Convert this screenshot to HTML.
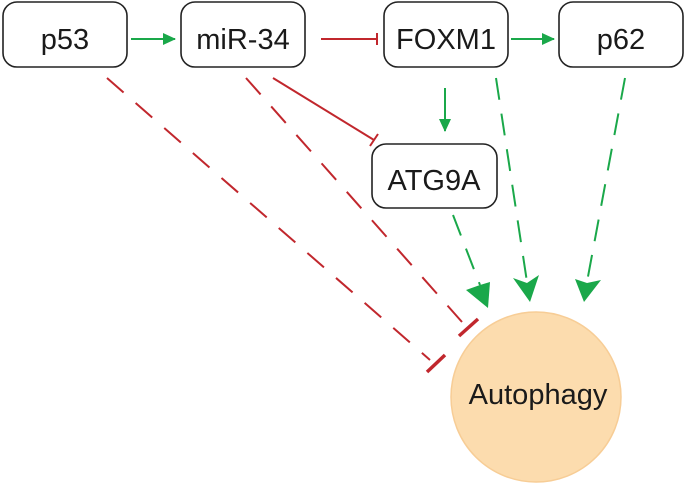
<!DOCTYPE html>
<html><head><meta charset="utf-8"><style>
html,body{margin:0;padding:0;background:#fff;width:685px;height:484px;overflow:hidden}
svg text{font-family:"Liberation Sans",sans-serif;font-size:29px;fill:#1a1a1a}
</style></head><body>
<svg width="685" height="484" viewBox="0 0 685 484" xmlns="http://www.w3.org/2000/svg">
<defs>
<marker id="ga" markerWidth="13" markerHeight="12" refX="12" refY="6" orient="auto" markerUnits="userSpaceOnUse"><path d="M0,0 L13,6 L0,12 z" fill="#1aa84a"/></marker>
</defs>
<g fill="#fff" stroke="#222" stroke-width="1.6">
<rect x="3" y="2" width="124" height="65" rx="14"/>
<rect x="181" y="2" width="124" height="65" rx="14"/>
<rect x="384" y="2" width="124" height="65" rx="14"/>
<rect x="559" y="2" width="124" height="65" rx="14"/>
<rect x="372" y="144" width="125" height="64" rx="14"/>
</g>
<circle cx="536" cy="397" r="85" fill="#fcdcae" stroke="#f7cd96" stroke-width="1.5"/>
<text x="65" y="49" text-anchor="middle">p53</text>
<text x="243" y="49" text-anchor="middle">miR-34</text>
<text x="446" y="49" text-anchor="middle">FOXM1</text>
<text x="621" y="49" text-anchor="middle">p62</text>
<text x="434" y="190" text-anchor="middle">ATG9A</text>
<text x="538" y="404" text-anchor="middle">Autophagy</text>
<g stroke="#1aa84a" stroke-width="2" fill="none">
<line x1="131" y1="39" x2="175" y2="39" marker-end="url(#ga)"/>
<line x1="511" y1="39" x2="554" y2="39" marker-end="url(#ga)"/>
<line x1="445" y1="88" x2="445" y2="131" marker-end="url(#ga)"/>
</g>
<g stroke="#c1272d" stroke-width="2" fill="none">
<line x1="321" y1="39" x2="377" y2="39"/>
<line x1="377" y1="33" x2="377" y2="45"/>
<line x1="273" y1="78" x2="374" y2="140"/>
<line x1="370" y1="146" x2="378" y2="134"/>
</g>
<g stroke="#1aa84a" stroke-width="2" fill="none" stroke-dasharray="22,14">
<line x1="453" y1="215" x2="480" y2="285"/>
<line x1="496" y1="78" x2="527" y2="282"/>
<line x1="625" y1="78" x2="587" y2="282"/>
</g>
<g fill="#1aa84a">
<polygon points="488,308 466,290 480,285 490,282"/>
<polygon points="530,302 513,278 527,283 539,275"/>
<polygon points="584,302 575,279 587,283 601,280"/>
</g>
<g stroke="#c1272d" stroke-width="2" fill="none" stroke-dasharray="22,16">
<line x1="107" y1="78" x2="430" y2="360"/>
<line x1="246" y1="78" x2="462" y2="322"/>
</g>
<g stroke="#c1272d" stroke-width="3.5" fill="none">
<line x1="427" y1="372" x2="445" y2="355"/>
<line x1="459" y1="336" x2="478" y2="319"/>
</g>
</svg>
</body></html>
